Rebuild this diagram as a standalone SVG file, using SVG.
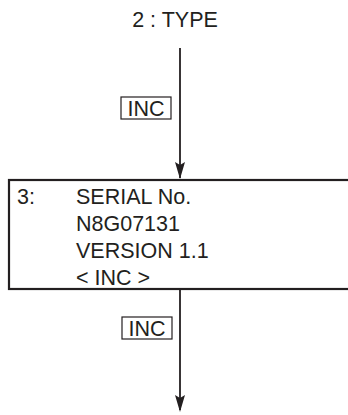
<svg xmlns="http://www.w3.org/2000/svg" width="348" height="415" viewBox="0 0 348 415">
<style>
text{font-family:"Liberation Sans",Arial,sans-serif;font-size:21.5px;fill:#231f20}
.ln{stroke:#231f20;stroke-width:1.8;fill:none}
.tag{stroke:#231f20;stroke-width:1.2;fill:#fff}
.box{stroke:#231f20;stroke-width:2.2;fill:#fff}
.ah{fill:#231f20}
</style>
<rect width="348" height="415" fill="#fff"/>
<g id="connectors">
<line class="ln" x1="180" y1="48" x2="180" y2="178"/>
<path class="ah" d="M175,162 L180,165 L185,162 L180,179 Z"/>
<line class="ln" x1="180" y1="290" x2="180" y2="410"/>
<path class="ah" d="M175,395 L180,398 L185,395 L180,412 Z"/>
<g id="inc1"><rect class="tag" x="121" y="97" width="50" height="22"/><text x="146" y="115.5" text-anchor="middle">INC</text></g>
<g id="inc2"><rect class="tag" x="122" y="317" width="50" height="22"/><text x="147" y="335.5" text-anchor="middle">INC</text></g>
</g>
<g id="type"><text x="175" y="27" text-anchor="middle">2 : TYPE</text></g>
<g id="serial">
<rect class="box" x="9" y="180" width="345" height="109"/>
<text x="17" y="204">3:</text>
<text x="76" y="204">SERIAL No.</text>
<text x="76" y="231">N8G07131</text>
<text x="76" y="258">VERSION 1.1</text>
<text x="76" y="285">&lt; INC &gt;</text>
</g>
</svg>
